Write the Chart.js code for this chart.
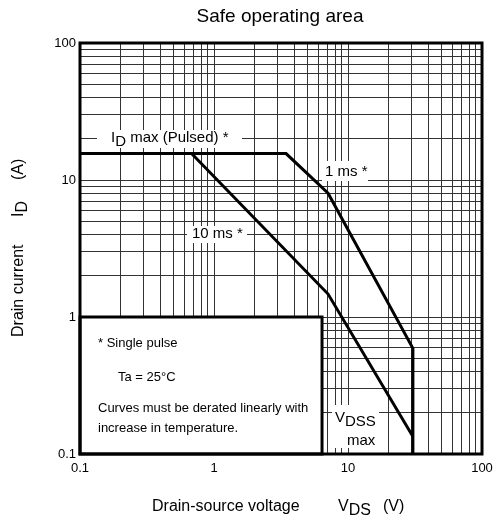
<!DOCTYPE html>
<html>
<head>
<meta charset="utf-8">
<script src="https://cdn.jsdelivr.net/npm/chart.js@4.4.1/dist/chart.umd.min.js"></script>
<style>
  html, body { margin: 0; padding: 0; background: #fff; }
  #wrap { position: relative; width: 500px; height: 523px; }
</style>
</head>
<body>
<div id="wrap"><canvas id="soaChart"></canvas></div>
<script>
// ── data ──
var pulse1msV = [0.1, 3.45, 7.1, 30.5, 30.5];
var pulse1msI = [15.6, 15.6, 8.0, 0.59, 0.1];
var pulse10msV = [0.68, 7.1, 30.5];
var pulse10msI = [15.6, 1.47, 0.134];

var decadeTicks = [0.1, 1, 10, 100];
var decadeLabels = ['0.1', '1', '10', '100'];
var gridSteps = [1, 2, 3, 4, 5, 6, 7, 8, 9];

var FONT = '"Liberation Sans", Arial, sans-serif';

function toPoints(xs, ys) {
  return xs.map(function(x, i) { return { x: x, y: ys[i] }; });
}

// grid lines at 1..9 of each decade
function gridValues() {
  var out = [];
  for (var i = 0; i < decadeTicks.length - 1; i++) {
    gridSteps.forEach(function(s) {
      out.push(+(decadeTicks[i] * s).toPrecision(3));
    });
  }
  out.push(decadeTicks[decadeTicks.length - 1]);
  return out;
}

function decadeLabel(v) {
  var idx = decadeTicks.indexOf(v);
  return idx >= 0 ? decadeLabels[idx] : '';
}

// draw text made of normal / subscript pieces, left aligned
function drawParts(ctx, parts, x, y, size) {
  ctx.font = size + 'px ' + FONT;
  ctx.textAlign = 'left';
  ctx.textBaseline = 'middle';
  var cx = x;
  parts.forEach(function(p) {
    if (p.at !== undefined) cx = x + p.at;
    ctx.fillText(p.t, cx, y + (p.sub ? 4 : 0));
    cx += ctx.measureText(p.t).width;
  });
}

function whiteBox(ctx, x1, y1, x2, y2) {
  ctx.fillStyle = '#fff';
  ctx.fillRect(x1, y1, x2 - x1, y2 - y1);
  ctx.fillStyle = '#000';
}

var decorPlugin = {
  id: 'soaDecor',
  afterDraw: function(chart) {
    var ctx = chart.ctx;
    var a = chart.chartArea;
    var xs = chart.scales.x, ys = chart.scales.y;
    ctx.save();

    // note box in the lower-left corner
    var bx2 = xs.getPixelForValue(6.4), by1 = ys.getPixelForValue(1);
    whiteBox(ctx, a.left, by1, bx2, a.bottom);
    ctx.lineWidth = 3;
    ctx.strokeStyle = '#000';
    ctx.strokeRect(a.left, by1, bx2 - a.left, a.bottom - by1);

    ctx.fillStyle = '#000';
    drawParts(ctx, [{ t: '* Single pulse' }], 98, 343, 13);
    drawParts(ctx, [{ t: 'Ta = 25°C' }], 118, 377, 13);
    drawParts(ctx, [{ t: 'Curves must be derated linearly with' }], 98, 408, 13);
    drawParts(ctx, [{ t: 'increase in temperature.' }], 98, 428, 13);

    // curve labels
    whiteBox(ctx, 97, 130, 242, 148);
    drawParts(ctx, [{ t: 'I' }, { t: 'D', sub: true }, { t: ' max (Pulsed) *' }], 111, 138, 15);

    whiteBox(ctx, 322, 161, 368, 181);
    drawParts(ctx, [{ t: '1 ms *' }], 325, 172, 15);

    whiteBox(ctx, 187, 226, 247, 243);
    drawParts(ctx, [{ t: '10 ms *' }], 192, 234, 15);

    whiteBox(ctx, 332, 405, 379, 448);
    drawParts(ctx, [{ t: 'V' }, { t: 'DSS', sub: true }], 335, 418, 15);
    drawParts(ctx, [{ t: 'max' }], 347, 441, 15);

    // frame
    ctx.lineWidth = 3;
    ctx.strokeStyle = '#000';
    ctx.strokeRect(a.left, a.top, a.right - a.left, a.bottom - a.top);

    // title
    ctx.fillStyle = '#000';
    ctx.font = '19px ' + FONT;
    ctx.textAlign = 'center';
    ctx.textBaseline = 'middle';
    ctx.fillText('Safe operating area', 280, 17);

    // x axis title
    drawParts(ctx, [
      { t: 'Drain-source voltage' },
      { t: 'V', at: 186 }, { t: 'DS', sub: true },
      { t: '(V)', at: 231 }
    ], 152, 507, 16);

    // y axis title (rotated)
    ctx.translate(19, 337);
    ctx.rotate(-Math.PI / 2);
    drawParts(ctx, [
      { t: 'Drain current' },
      { t: 'I', at: 120 }, { t: 'D', sub: true },
      { t: '(A)', at: 157 }
    ], 0, 0, 16);

    ctx.restore();
  }
};

var gridColor = '#333';

new Chart(document.getElementById('soaChart'), {
  type: 'scatter',
  data: {
    datasets: [
      {
        label: '1 ms',
        data: toPoints(pulse1msV, pulse1msI),
        showLine: true,
        borderColor: '#000',
        borderWidth: 3,
        pointRadius: 0,
        borderJoinStyle: 'miter',
        tension: 0
      },
      {
        label: '10 ms',
        data: toPoints(pulse10msV, pulse10msI),
        showLine: true,
        borderColor: '#000',
        borderWidth: 3,
        pointRadius: 0,
        borderJoinStyle: 'miter',
        tension: 0
      }
    ]
  },
  options: {
    responsive: true,
    maintainAspectRatio: false,
    animation: false,
    layout: { padding: { top: 43, right: 18, left: 0, bottom: 0 } },
    plugins: {
      legend: { display: false },
      tooltip: { enabled: false }
    },
    scales: {
      x: {
        type: 'logarithmic',
        min: 0.1,
        max: 100,
        afterBuildTicks: function(scale) {
          scale.ticks = gridValues().map(function(v) { return { value: v }; });
        },
        afterFit: function(scale) { scale.height = 69; },
        grid: { color: gridColor, lineWidth: 1, drawTicks: false },
        border: { display: false },
        ticks: {
          autoSkip: false,
          maxRotation: 0,
          padding: 7,
          color: '#000',
          font: { family: FONT, size: 13 },
          callback: function(v) { return decadeLabel(v); }
        }
      },
      y: {
        type: 'logarithmic',
        min: 0.1,
        max: 100,
        afterBuildTicks: function(scale) {
          scale.ticks = gridValues().map(function(v) { return { value: v }; });
        },
        afterFit: function(scale) { scale.width = 80; },
        grid: { color: gridColor, lineWidth: 1, drawTicks: false },
        border: { display: false },
        ticks: {
          autoSkip: false,
          padding: 4,
          color: '#000',
          font: { family: FONT, size: 13 },
          callback: function(v) { return decadeLabel(v); }
        }
      }
    }
  },
  plugins: [decorPlugin]
});
</script>
</body>
</html>
